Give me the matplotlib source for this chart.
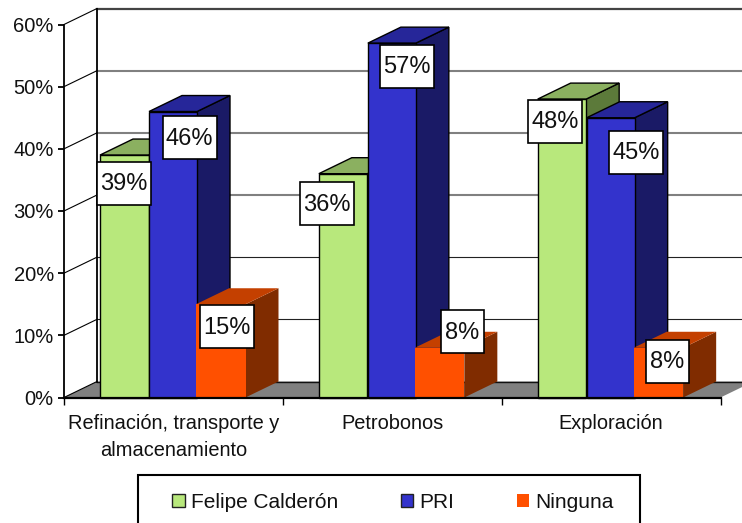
import matplotlib
matplotlib.use("Agg")
import matplotlib.pyplot as plt
from matplotlib.patches import Polygon, Rectangle, Patch
from matplotlib.transforms import IdentityTransform

plt.rcParams['font.family'] = ['Liberation Sans', 'DejaVu Sans']

categories = ["Refinación, transporte y\nalmacenamiento", "Petrobonos", "Exploración"]
series_names = ["Felipe Calderón", "PRI", "Ninguna"]
felipe = [39, 36, 48]
pri = [46, 57, 45]
ninguna = [15, 8, 8]
y_ticks = [0, 10, 20, 30, 40, 50, 60]

# layout (pixels)
W, H = 742, 523
L, R, T, B = 64, 720.5, 24.5, 397.5
DX_PX, DY_PX = 33, 16
bar_starts_px = [36, 85, 132]
bar_widths_px = [48.5, 48, 49.5]
label_offsets = [
    [(-0.5, 28), (16.5, 26), (6.5, 22.5)],
    [(-16, 30), (15, 23), (23, -16)],
    [(-7, 22), (25.5, 34.5), (9, 13.5)],
]
colors = [
    dict(front="#B8E87C", top="#8BB060", side="#5C7A3A", edge="black"),
    dict(front="#3333CC", top="#262699", side="#1A1A66", edge="black"),
    dict(front="#FF5000", top="#C44000", side="#802C00", edge="none"),
]

fig = plt.figure(figsize=(W / 100, H / 100), dpi=100, facecolor="white")
ax = fig.add_axes([L / W, 1 - B / H, (R - L) / W, (B - T) / H])
ax.set_xlim(0, 3)
ax.set_ylim(0, 60)
ax.patch.set_visible(False)

px_x = 3 / (R - L)
px_y = 60 / (B - T)
dx = DX_PX * px_x
dy = DY_PX * px_y

# walls, floor and gridlines
ax.add_patch(Polygon([(0, 0), (3, 0), (3 + dx, dy), (dx, dy)], closed=True, fc="#808080", ec="none",
                     clip_on=False, zorder=1))
ax.plot([dx, 3 + dx], [dy, dy], color="#111111", lw=1.0, clip_on=False, zorder=1.2)
ax.plot([dx, dx], [dy, 60 + dy], color="black", lw=1.3, clip_on=False, zorder=1.2)
for v in y_ticks:
    ax.plot([0, dx], [v, v + dy], color="black", lw=0.8, clip_on=False, zorder=1.1)
    if v == 0:
        continue
    style = dict(color="#808080", lw=1.5) if v >= 30 else dict(color="#222222", lw=0.8)
    if v == 60:
        style = dict(color="#444444", lw=1.6)
    ax.plot([dx, 3 + dx], [v + dy, v + dy], clip_on=False, zorder=1, **style)

# bars
all_values = [felipe, pri, ninguna]
z = 2
for g in range(len(categories)):
    for s, vals in enumerate(all_values):
        v = vals[g]
        x0 = g + bar_starts_px[s] * px_x
        x1 = x0 + bar_widths_px[s] * px_x
        c = colors[s]
        lw = 1.0 if c["edge"] != "none" else 0
        ax.add_patch(Polygon([(x1, 0), (x1 + dx, dy), (x1 + dx, v + dy), (x1, v)], closed=True,
                             fc=c["side"], ec=c["edge"], lw=lw, clip_on=False, zorder=z))
        ax.add_patch(Polygon([(x0, v), (x1, v), (x1 + dx, v + dy), (x0 + dx, v + dy)], closed=True,
                             fc=c["top"], ec=c["edge"], lw=lw, clip_on=False, zorder=z))
        ax.add_patch(Rectangle((x0, 0), x1 - x0, v, fc=c["front"], ec=c["edge"], lw=lw,
                               clip_on=False, zorder=z + 0.1))
        z += 0.2

# axes
for sp in ("top", "right"):
    ax.spines[sp].set_visible(False)
ax.spines["left"].set_linewidth(1.3)
ax.spines["bottom"].set_linewidth(1.6)
ax.spines["left"].set_zorder(8)
ax.spines["bottom"].set_zorder(8)
ax.set_yticks(y_ticks)
ax.set_yticklabels([f"{v}%" for v in y_ticks], fontsize=14.5, color="#111111")
ax.tick_params(axis="y", length=4.3, width=1.3, pad=3)
ax.set_xticks(range(4))
ax.set_xticklabels([])
ax.tick_params(axis="x", which="major", length=4.8, width=1.0)
ax.set_xticks([0.5, 1.5, 2.5], minor=True)
ax.set_xticklabels(categories, minor=True, fontsize=14.4, color="#111111", linespacing=1.55)
ax.tick_params(axis="x", which="minor", length=0, pad=12)

# value labels
fig.canvas.draw()
for g in range(len(categories)):
    for s, vals in enumerate(all_values):
        v = vals[g]
        xc = g + (bar_starts_px[s] + bar_widths_px[s] / 2) * px_x
        px, py = ax.transData.transform((xc, v))
        ox, oy = label_offsets[g][s]
        cx, cy = px + ox, py - oy
        text = f"{v}%"
        w = 54 if len(text) == 3 else 43
        bh = 43
        fig.add_artist(Rectangle((cx - w / 2, cy - bh / 2), w, bh, fc="white", ec="black", lw=1.2,
                                 transform=IdentityTransform(), zorder=20))
        fig.add_artist(plt.Text(cx, cy - 1, text, ha="center", va="center", fontsize=17, color="#111111",
                                transform=IdentityTransform(), zorder=21))

# legend
fig.add_artist(Rectangle((138 / W, -0.01), (640 - 138) / W, 1 - 474.7 / H + 0.01, fc="white", ec="black", lw=1.5,
                         transform=fig.transFigure, zorder=3))
handles = [Patch(fc=colors[i]["front"], ec="#222222" if i < 2 else "none", lw=1.0) for i in range(3)]
leg = fig.legend(handles, series_names, ncol=3, loc="center left",
                 bbox_to_anchor=(172 / W, 1 - 502 / H), bbox_transform=fig.transFigure,
                 fontsize=15, frameon=False,
                 handlelength=0.6, handleheight=0.6, handletextpad=0.3, columnspacing=3.0,
                 borderpad=0, borderaxespad=0)
leg.set_zorder(4)
for t in leg.get_texts():
    t.set_color("#111111")

fig.savefig("out.png", dpi=100)
